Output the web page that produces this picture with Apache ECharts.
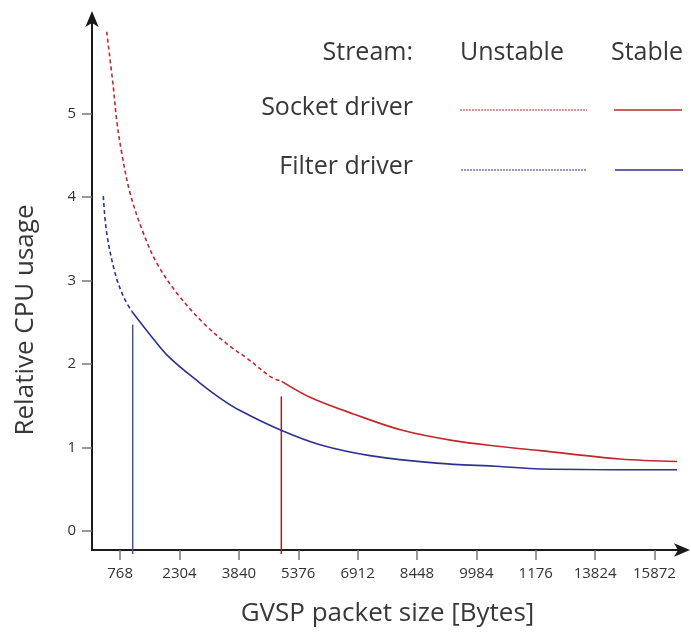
<!DOCTYPE html>
<html>
<head>
<meta charset="utf-8">
<script src="https://cdn.jsdelivr.net/npm/echarts@6/dist/echarts.min.js"></script>
<style>
	html, body { margin: 0; padding: 0; background: #fff; }
	#chart { width: 691px; height: 632px; }
</style>
</head>
<body>
<div id="chart"></div>
<script>
// x axis: tick positions (bytes) and the labels printed under them
const tickValues = [768, 2304, 3840, 5376, 6912, 8448, 9984, 11520, 13056, 14592];
const tickLabels = ['768', '2304', '3840', '5376', '6912', '8448', '9984', '1176', '13824', '15872'];
const yTicks = [0, 1, 2, 3, 4, 5];

// socket driver
const socketUnstable = [[420, 5.98], [591, 5.32], [679, 4.92], [809, 4.53], [1023, 4.05], [1367, 3.57], [1714, 3.21], [2232, 2.85], [2920, 2.49], [3611, 2.21], [4043, 2.07], [4646, 1.85], [4948, 1.79]];
const socketStable = [[4948, 1.79], [5680, 1.60], [6801, 1.40], [8094, 1.20], [9388, 1.08], [10596, 1.01], [11631, 0.96], [13701, 0.86], [15176, 0.83]];
const socketMarker = [[4938, 1.61], [4938, -0.28]];

// filter driver
const filterUnstable = [[332, 4.01], [420, 3.57], [635, 3.09], [850, 2.81], [1067, 2.63]];
const filterStable = [[1067, 2.63], [1541, 2.35], [2014, 2.09], [2834, 1.77], [3352, 1.59], [3870, 1.44], [4948, 1.20], [5938, 1.03], [7233, 0.90], [8958, 0.81], [10596, 0.77], [11631, 0.74], [15176, 0.73]];
const filterMarker = [[1093, 2.47], [1093, -0.28]];

const RED = '#c1272d';
const BLUE = '#2e3192';
const FONT = '"Open Sans", "Noto Sans", sans-serif';
const TEXT = '#383838';

const chart = echarts.init(document.getElementById('chart'));

function curve(data, color, dashed) {
	return {
		type: 'line',
		data: data,
		smooth: 0.35,
		symbol: 'none',
		lineStyle: { color: color, width: 1.6, type: dashed ? [4, 3] : 'solid' },
		z: 3,
	};
}

function marker(data, color) {
	return {
		type: 'line',
		data: data,
		symbol: 'none',
		clip: false,
		lineStyle: { color: color, width: 1.5 },
		z: 2,
	};
}

function label(text, x, y, align) {
	return {
		type: 'text',
		x: x,
		y: y,
		style: { text: text, font: '25px ' + FONT, fill: TEXT, align: align, verticalAlign: 'middle' },
	};
}

chart.setOption({
	animation: false,
	grid: { left: 92, right: 8, top: 18, bottom: 81 },
	xAxis: {
		type: 'value',
		min: 40,
		max: 15330,
		name: 'GVSP packet size [Bytes]',
		nameLocation: 'middle',
		nameGap: 51,
		nameTextStyle: { fontFamily: FONT, fontSize: 26, color: TEXT },
		axisLine: { onZero: false, lineStyle: { color: '#1a1a1a', width: 2 }, symbol: ['none', 'arrow'], symbolSize: [10, 16], symbolOffset: [0, 7] },
		axisTick: { customValues: tickValues, length: 10, lineStyle: { color: '#777', width: 1.5 } },
		axisLabel: {
			customValues: tickValues,
			margin: 16,
			fontFamily: FONT,
			fontSize: 15,
			color: '#333',
			formatter: (v) => tickLabels[tickValues.indexOf(v)],
		},
		splitLine: { show: false },
	},
	yAxis: {
		type: 'value',
		min: -0.231,
		max: 6.145,
		name: 'Relative CPU usage',
		nameLocation: 'middle',
		nameRotate: 90,
		nameGap: 53,
		nameTextStyle: { fontFamily: FONT, fontSize: 26, color: TEXT, padding: [0, 72, 0, 0] },
		axisLine: { onZero: false, lineStyle: { color: '#1a1a1a', width: 2 }, symbol: ['none', 'arrow'], symbolSize: [10, 16], symbolOffset: [0, 7] },
		axisTick: { customValues: yTicks, length: 10, lineStyle: { color: '#777', width: 1.5 } },
		axisLabel: { customValues: yTicks, margin: 16, fontFamily: FONT, fontSize: 15, color: '#333' },
		splitLine: { show: false },
	},
	series: [
		curve(socketUnstable, RED, true),
		curve(socketStable, RED, false),
		curve(filterUnstable, BLUE, true),
		curve(filterStable, BLUE, false),
		marker(socketMarker, '#8e2a2e'),
		marker(filterMarker, '#4452a0'),
	],
	graphic: [
		label('Stream:', 413, 53, 'right'),
		label('Unstable', 512, 53, 'center'),
		label('Stable', 647, 53, 'center'),
		label('Socket driver', 413, 108, 'right'),
		label('Filter driver', 413, 167, 'right'),
		{ type: 'line', shape: { x1: 460, y1: 110, x2: 587, y2: 110 }, style: { stroke: RED, lineWidth: 1.2, lineDash: [2, 1] } },
		{ type: 'line', shape: { x1: 614, y1: 110, x2: 682, y2: 110 }, style: { stroke: RED, lineWidth: 1.4 } },
		{ type: 'line', shape: { x1: 461, y1: 170, x2: 587, y2: 170 }, style: { stroke: BLUE, lineWidth: 1.2, lineDash: [2, 1] } },
		{ type: 'line', shape: { x1: 615, y1: 170, x2: 683, y2: 170 }, style: { stroke: BLUE, lineWidth: 1.4 } },
	],
});
</script>
</body>
</html>
